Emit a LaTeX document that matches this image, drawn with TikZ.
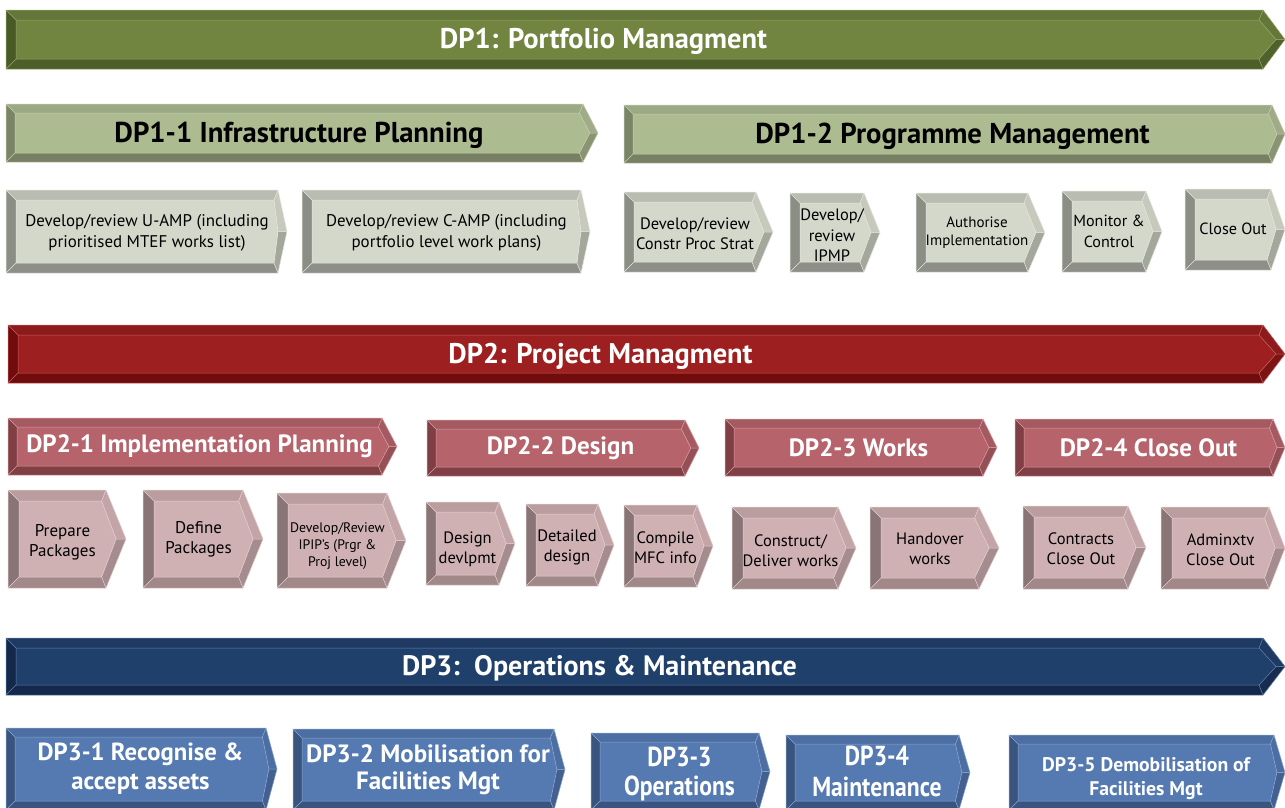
\documentclass[tikz,border=0pt]{standalone}
\usepackage{fontspec}
\setmainfont{PT Sans}
\newfontfamily\condf[FakeStretch=0.86]{PT Sans}
\newcommand\fs[2]{\fontsize{#1}{#2}\selectfont}
% colour schemes: F face, T top, B bottom, L left, U right-upper, D right-lower, E edge line
\definecolor{gAF}{RGB}{113,132,64}\definecolor{gAT}{RGB}{101,119,56}\definecolor{gAB}{RGB}{77,94,41}
\definecolor{gAL}{RGB}{74,90,39}\definecolor{gAU}{RGB}{101,119,56}\definecolor{gAD}{RGB}{80,97,43}\definecolor{gAE}{RGB}{145,165,105}
\definecolor{gBF}{RGB}{173,187,144}\definecolor{gBT}{RGB}{157,168,132}\definecolor{gBB}{RGB}{120,128,100}
\definecolor{gBL}{RGB}{122,132,103}\definecolor{gBU}{RGB}{160,172,135}\definecolor{gBD}{RGB}{138,148,114}\definecolor{gBE}{RGB}{195,205,172}
\definecolor{gCF}{RGB}{212,216,203}\definecolor{gCT}{RGB}{185,188,176}\definecolor{gCB}{RGB}{141,143,136}
\definecolor{gCL}{RGB}{139,142,133}\definecolor{gCU}{RGB}{198,201,188}\definecolor{gCD}{RGB}{164,167,155}\definecolor{gCE}{RGB}{228,230,222}
\definecolor{rAF}{RGB}{157,31,31}\definecolor{rAT}{RGB}{142,27,27}\definecolor{rAB}{RGB}{112,12,11}
\definecolor{rAL}{RGB}{112,12,11}\definecolor{rAU}{RGB}{142,27,27}\definecolor{rAD}{RGB}{125,20,20}\definecolor{rAE}{RGB}{195,95,95}
\definecolor{rBF}{RGB}{182,99,107}\definecolor{rBT}{RGB}{165,90,97}\definecolor{rBB}{RGB}{127,63,69}
\definecolor{rBL}{RGB}{127,63,69}\definecolor{rBU}{RGB}{165,90,97}\definecolor{rBD}{RGB}{148,80,86}\definecolor{rBE}{RGB}{215,155,160}
\definecolor{pCF}{RGB}{208,177,179}\definecolor{pCT}{RGB}{186,157,159}\definecolor{pCB}{RGB}{161,137,138}
\definecolor{pCL}{RGB}{138,117,118}\definecolor{pCU}{RGB}{195,165,167}\definecolor{pCD}{RGB}{165,140,142}\definecolor{pCE}{RGB}{228,205,207}
\definecolor{nAF}{RGB}{32,64,108}\definecolor{nAT}{RGB}{30,58,98}\definecolor{nAB}{RGB}{20,40,75}
\definecolor{nAL}{RGB}{20,40,75}\definecolor{nAU}{RGB}{30,58,98}\definecolor{nAD}{RGB}{22,45,80}\definecolor{nAE}{RGB}{95,125,165}
\definecolor{bAF}{RGB}{84,122,177}\definecolor{bAT}{RGB}{76,110,162}\definecolor{bAB}{RGB}{58,84,128}
\definecolor{bAL}{RGB}{58,84,128}\definecolor{bAU}{RGB}{76,110,162}\definecolor{bAD}{RGB}{68,96,145}\definecolor{bAE}{RGB}{135,165,205}
\tikzset{
  gAtxt/.style={text=white,font=\bfseries\fs{28.5}{33},xshift=-36pt,yshift=-2pt},
  gBtxt/.style={text=black,font=\bfseries\fs{28.7}{33},yshift=-2pt},
  gCtxt/.style={text=black,align=center,font=\fs{16.9}{21},yshift=-1pt},
  rAtxt/.style={text=white,font=\bfseries\fs{28.4}{33},xshift=-40pt,yshift=-2pt},
  rBtxt/.style={text=white,font=\bfseries\fs{25}{29}},
  pCtxt/.style={text=black,align=center,font=\fs{16.5}{20},yshift=-2pt},
  nAtxt/.style={text=white,font=\bfseries\fs{28.1}{33},xshift=-40pt,yshift=-2pt},
  bAtxt/.style={text=white,align=center,font=\bfseries\fs{24.7}{29}},
  bevline/.style={line width=0.5pt,line join=round},
  % per-box text adjustments
  boxcps/.style={font=\fs{16.5}{20.5},yshift=-0.5pt},
  boxipmp/.style={font=\fs{16.5}{20.5},yshift=-2pt},
  boxauth/.style={font=\fs{15}{18.5},yshift=1pt},
  boxmon/.style={font=\fs{16.1}{21},yshift=1pt},
  boxclose1/.style={font=\fs{16.2}{21},yshift=1.5pt},
  boxprep/.style={font=\fs{17}{20},yshift=-1pt},
  boxdefp/.style={font=\fs{17}{20},yshift=2pt},
  boxipip/.style={font=\fs{13.8}{17},yshift=-4pt},
  boxdesd/.style={yshift=-4pt},
  boxcons/.style={yshift=-1pt},
  boxhand/.style={yshift=1pt},
  boxccl/.style={yshift=1pt},
  boxdp32/.style={font=\bfseries\fs{25}{27}},
  boxdp33/.style={font=\condf\bfseries\fs{27.5}{29},yshift=-2.5pt},
  boxdp34/.style={font=\condf\bfseries\fs{27.5}{31},yshift=1.5pt},
  boxdp35/.style={font=\bfseries\fs{19.7}{23.5},yshift=-6pt},
}
% #1 scheme, #2 x1, #3 y1, #4 x2 (tip), #5 y2, #6 tip length, #7 bevel, #8 name, #9 text
\newcommand\bevbox[9]{%
 \pgfmathsetmacro\bqXa{#2}\pgfmathsetmacro\bqYa{#3}%
 \pgfmathsetmacro\bqXb{#4}\pgfmathsetmacro\bqYb{#5}%
 \pgfmathsetmacro\bqXc{#4-#6}\pgfmathsetmacro\bqYm{(#3+#5)/2}%
 \pgfmathsetmacro\bqIXa{#2+#7}\pgfmathsetmacro\bqIYa{#3+#7}%
 \pgfmathsetmacro\bqIYb{#5-#7}\pgfmathsetmacro\bqIXc{#4-#6-0.4*#7}%
 \pgfmathsetmacro\bqIXt{#4-0.9*#7}\pgfmathsetmacro\bqTx{(#2+#7+#4-#6)/2}%
 \fill[#1T] (\bqXa,\bqYa) -- (\bqXc,\bqYa) -- (\bqIXc,\bqIYa) -- (\bqIXa,\bqIYa) -- cycle;
 \fill[#1U] (\bqXc,\bqYa) -- (\bqXb,\bqYm) -- (\bqIXt,\bqYm) -- (\bqIXc,\bqIYa) -- cycle;
 \fill[#1D] (\bqXb,\bqYm) -- (\bqXc,\bqYb) -- (\bqIXc,\bqIYb) -- (\bqIXt,\bqYm) -- cycle;
 \fill[#1B] (\bqXc,\bqYb) -- (\bqXa,\bqYb) -- (\bqIXa,\bqIYb) -- (\bqIXc,\bqIYb) -- cycle;
 \fill[#1L] (\bqXa,\bqYb) -- (\bqXa,\bqYa) -- (\bqIXa,\bqIYa) -- (\bqIXa,\bqIYb) -- cycle;
 \fill[#1F] (\bqIXa,\bqIYa) -- (\bqIXc,\bqIYa) -- (\bqIXt,\bqYm) -- (\bqIXc,\bqIYb) -- (\bqIXa,\bqIYb) -- cycle;
 \draw[bevline,#1E] (\bqXa,\bqYa) -- (\bqXc,\bqYa) -- (\bqXb,\bqYm) -- (\bqXc,\bqYb) -- (\bqXa,\bqYb) -- cycle;
 \draw[bevline,#1E] (\bqIXa,\bqIYa) -- (\bqIXc,\bqIYa) -- (\bqIXt,\bqYm) -- (\bqIXc,\bqIYb) -- (\bqIXa,\bqIYb) -- cycle;
 \draw[bevline,#1E] (\bqXa,\bqYa) -- (\bqIXa,\bqIYa) (\bqXc,\bqYa) -- (\bqIXc,\bqIYa)
   (\bqXb,\bqYm) -- (\bqIXt,\bqYm) (\bqXc,\bqYb) -- (\bqIXc,\bqIYb) (\bqXa,\bqYb) -- (\bqIXa,\bqIYb);
 \node[#1txt,box#8/.try] (#8) at (\bqTx,\bqYm) {#9};
}
\begin{document}
\begin{tikzpicture}[x=1pt,y=-1pt]
\clip (0,0) rectangle (1285,807);
\fill[white] (0,0) rectangle (1285,807);
% DP1
\bevbox{gA}{6}{10}{1285}{69}{22}{10}{dp1}{DP1: Portfolio Managment}
\bevbox{gB}{6}{104}{598}{162}{15}{9}{dp11}{DP1-1 Infrastructure Planning}
\bevbox{gB}{624}{105}{1285}{163}{13}{9}{dp12}{DP1-2 Programme Management}
\bevbox{gC}{6}{190}{287}{273}{9}{10}{uamp}{Develop/review U-AMP (including\\prioritised MTEF works list)}
\bevbox{gC}{302}{190}{590}{273}{9}{10}{camp}{Develop/review C-AMP (including\\portfolio level work plans)}
\bevbox{gC}{624}{192}{773}{272}{17}{10}{cps}{Develop/review\\Constr Proc Strat}
\bevbox{gC}{790}{193}{880}{272}{16}{10}{ipmp}{Develop/\\review\\IPMP}
\bevbox{gC}{916}{193}{1045}{272}{17}{10}{auth}{Authorise\\Implementation}
\bevbox{gC}{1062}{191}{1162}{272}{16}{10}{mon}{Monitor \&\\Control}
\bevbox{gC}{1185}{189}{1285}{270}{14}{10}{close1}{Close Out}
% DP2
\bevbox{rA}{8}{325}{1285}{383}{22}{10}{dp2}{DP2: Project Managment}
\bevbox{rB}{8}{418}{397}{475}{15}{9}{dp21}{DP2-1 Implementation Planning}
\bevbox{rB}{427}{420}{699}{476}{14}{9}{dp22}{DP2-2 Design}
\bevbox{rB}{725}{419}{997}{476}{14}{9}{dp23}{DP2-3 Works}
\bevbox{rB}{1015}{419}{1285}{476}{12}{9}{dp24}{DP2-4 Close Out}
\bevbox{pC}{8}{490}{126}{588}{20}{11}{prep}{Prepare\\Packages}
\bevbox{pC}{143}{490}{263}{588}{20}{11}{defp}{Define\\Packages}
\bevbox{pC}{277}{493}{406}{588}{19}{11}{ipip}{Develop/Review\\IPIP’s (Prgr \&\\Proj level)}
\bevbox{pC}{426}{502}{515}{585}{16}{10}{desd}{Design\\devlpmt}
\bevbox{pC}{526}{504}{614}{586}{16}{10}{detd}{Detailed\\design}
\bevbox{pC}{624}{505}{713}{587}{16}{10}{mfc}{Compile\\MFC info}
\bevbox{pC}{732}{507}{856}{589}{18}{11}{cons}{Construct/\\Deliver works}
\bevbox{pC}{870}{507}{999}{589}{20}{11}{hand}{Handover\\works}
\bevbox{pC}{1023}{506}{1146}{589}{18}{11}{ccl}{Contracts\\Close Out}
\bevbox{pC}{1161}{507}{1285}{589}{16}{11}{acl}{Adminxtv\\Close Out}
% DP3
\bevbox{nA}{6}{638}{1285}{695}{22}{10}{dp3}{DP3:\ \ Operations \& Maintenance}
\bevbox{bA}{6}{728}{277}{810}{11}{9}{dp31}{DP3-1 Recognise \&\\accept assets}
\bevbox{bA}{293}{729}{565}{810}{11}{9}{dp32}{DP3-2 Mobilisation for\\Facilities Mgt}
\bevbox{bA}{591}{733}{770}{810}{11}{9}{dp33}{DP3-3\\Operations}
\bevbox{bA}{786}{735}{970}{810}{11}{9}{dp34}{DP3-4\\Maintenance}
\bevbox{bA}{1009}{735}{1285}{810}{11}{9}{dp35}{DP3-5 Demobilisation of\\Facilities Mgt}
\end{tikzpicture}
\end{document}
